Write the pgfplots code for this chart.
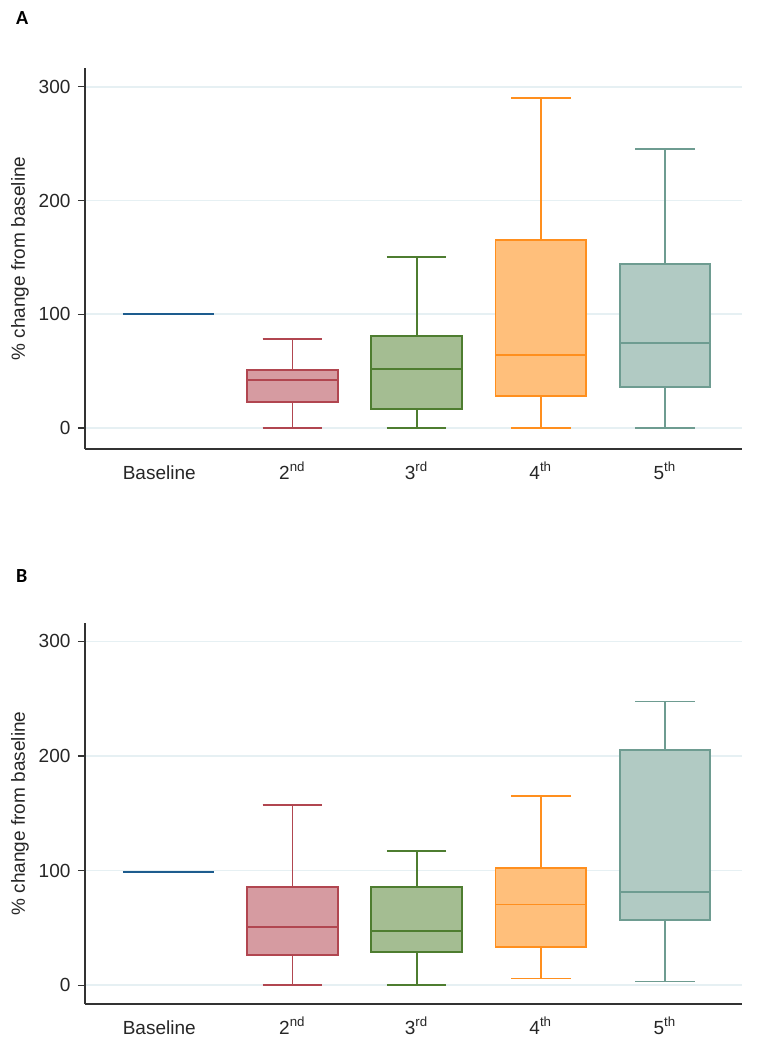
\documentclass[border=0pt]{standalone}
\usepackage{pgfplots}
\pgfplotsset{compat=1.18}
\usepgfplotslibrary{statistics}
\usepackage{fontspec}
\setmainfont{Liberation Sans}
\newfontfamily\panelfont{Carlito}

\definecolor{redfill}{HTML}{D69BA1}
\definecolor{rededge}{HTML}{B14650}
\definecolor{greenfill}{HTML}{A4BD92}
\definecolor{greenedge}{HTML}{4E7D30}
\definecolor{orangefill}{HTML}{FFBF7B}
\definecolor{orangeedge}{HTML}{FF8F1E}
\definecolor{tealfill}{HTML}{B1CAC3}
\definecolor{tealedge}{HTML}{6E9C91}
\definecolor{basec}{HTML}{1D5C8E}
\definecolor{gridc}{HTML}{E6F0F3}
\definecolor{axisgray}{HTML}{333333}

\pgfplotsset{
  panel/.style={
    scale only axis,
    width=328.5pt, height=190.5pt,
    xmin=-0.67, xmax=4.62,
    axis x line*=bottom, axis y line*=left,
    axis line style={axisgray, line width=0.7pt},
    xtick={0,1,2,3,4},
    xticklabels={Baseline\hspace*{9pt}, 2\textsuperscript{nd}, 3\textsuperscript{rd}, 4\textsuperscript{th}, 5\textsuperscript{th}},
    major x tick style={draw=none},
    ytick={0,100,200,300},
    ytick style={axisgray, line width=0.6pt},
    tick align=outside, major tick length=3.5pt,
    ymajorgrids, grid style={gridc, line width=0.8pt},
    tick label style={font=\fontsize{9.5}{11}\selectfont, text=black!85},
    xticklabel style={text height=8pt, text depth=2pt},
    /pgf/number format/assume math mode=true,
    ylabel={\% change from baseline},
    ylabel style={at={(axis description cs:-0.099,0.5)}, rotate=0, anchor=center,
      font=\fontsize{9.5}{11}\selectfont, text=black!85},
    boxplot/draw direction=y,
    line width=0.9pt,
  },
  bx/.style n args={2}{draw=#1, fill=#2, solid},
}

\begin{document}
\begin{tikzpicture}
\useasboundingbox (0,0) rectangle (379pt,-522.5pt);

\node[anchor=base west, font=\panelfont\bfseries\fontsize{10}{12}\selectfont] at (4.5pt,-12pt) {A};
\node[anchor=base west, font=\panelfont\bfseries\fontsize{10}{12}\selectfont] at (4.5pt,-291pt) {B};

% Panel A
\begin{axis}[panel, at={(42.5pt,-224.5pt)}, anchor=south west, ymin=-18.5, ymax=316.6]
\addplot[basec, line width=1pt] coordinates {(-0.365,100) (0.365,100)};
\addplot[bx={rededge}{redfill}, boxplot prepared={lower whisker=0, lower quartile=22.6, median=42.2,
  upper quartile=50.7, upper whisker=78.5, draw position=1, box extend=0.73, whisker extend=0.48}]
  coordinates {};
\addplot[bx={greenedge}{greenfill}, boxplot prepared={lower whisker=0, lower quartile=16.4, median=51.9,
  upper quartile=81.2, upper whisker=150.4, draw position=2, box extend=0.73, whisker extend=0.48}]
  coordinates {};
\addplot[bx={orangeedge}{orangefill}, boxplot prepared={lower whisker=0, lower quartile=28.4, median=63.9,
  upper quartile=165.3, upper whisker=290, draw position=3, box extend=0.73, whisker extend=0.48}]
  coordinates {};
\addplot[bx={tealedge}{tealfill}, boxplot prepared={lower whisker=0, lower quartile=36.3, median=75,
  upper quartile=144.2, upper whisker=245.4, draw position=4, box extend=0.73, whisker extend=0.48}]
  coordinates {};
\end{axis}

% Panel B
\begin{axis}[panel, at={(42.5pt,-502pt)}, anchor=south west, ymin=-16.4, ymax=316]
\addplot[basec, line width=1pt] coordinates {(-0.365,98.5) (0.365,98.5)};
\addplot[bx={rededge}{redfill}, boxplot prepared={lower whisker=0, lower quartile=26.3, median=50.5,
  upper quartile=85.6, upper whisker=157.3, draw position=1, box extend=0.73, whisker extend=0.48}]
  coordinates {};
\addplot[bx={greenedge}{greenfill}, boxplot prepared={lower whisker=0, lower quartile=28.9, median=47,
  upper quartile=85.6, upper whisker=116.9, draw position=2, box extend=0.73, whisker extend=0.48}]
  coordinates {};
\addplot[bx={orangeedge}{orangefill}, boxplot prepared={lower whisker=5.8, lower quartile=33.3, median=70.4,
  upper quartile=102.6, upper whisker=164.9, draw position=3, box extend=0.73, whisker extend=0.48}]
  coordinates {};
\addplot[bx={tealedge}{tealfill}, boxplot prepared={lower whisker=3.2, lower quartile=56.7, median=81.2,
  upper quartile=204.9, upper whisker=247.6, draw position=4, box extend=0.73, whisker extend=0.48}]
  coordinates {};
\end{axis}
\end{tikzpicture}
\end{document}
